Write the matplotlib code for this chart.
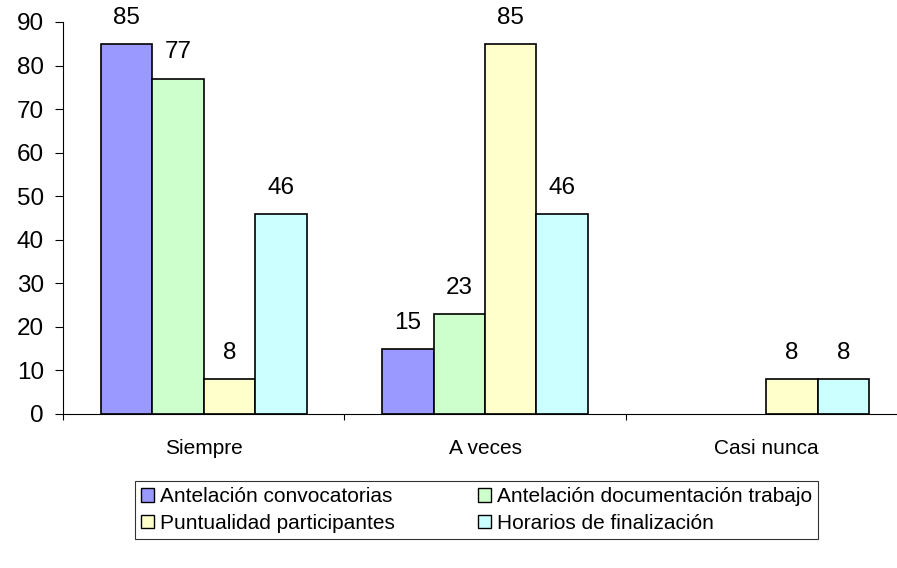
import matplotlib
matplotlib.use("Agg")
import matplotlib.pyplot as plt
import numpy as np
from matplotlib.patches import Patch

categories = ["Siempre", "A veces", "Casi nunca"]
series_names = ["Antelación convocatorias", "Antelación documentación trabajo",
                "Puntualidad participantes", "Horarios de finalización"]
antelacion_conv = [85, 15, 0]
antelacion_doc = [77, 23, 0]
puntualidad = [8, 85, 8]
horarios = [46, 46, 8]
series_values = [antelacion_conv, antelacion_doc, puntualidad, horarios]
colors = ["#9999FF", "#CCFFCC", "#FFFFCC", "#CCFFFF"]
yticks = list(range(0, 91, 10))

plt.rcParams['font.family'] = ['Liberation Sans', 'DejaVu Sans']

W, H = 897, 568
fig = plt.figure(figsize=(W / 100, H / 100), dpi=100)
left, right, top, bottom = 63, 907, 22, 414
ax = fig.add_axes([left / W, (H - bottom) / H, (right - left) / W, (bottom - top) / H])

bw = 0.183
x = np.arange(len(categories)) + 0.5
for i, (vals, c) in enumerate(zip(series_values, colors)):
    pos = x + (i - 1.5) * bw
    for p, v in zip(pos, vals):
        if v > 0:
            ax.bar(p, v, width=bw, color=c, edgecolor="black", linewidth=1.2, zorder=2)
            ax.annotate(f"{v}", (p, v), xytext=(0, 14.5), textcoords="offset points",
                        ha="center", va="baseline", fontsize=17.5)

ax.set_xlim(0, 3)
ax.set_ylim(0, 90)
ax.set_yticks(yticks)
ax.set_xticks([0, 1, 2, 3])
ax.set_xticklabels([])
ax.set_xticks(x, minor=True)
ax.set_xticklabels(categories, minor=True)
ax.tick_params(axis="x", which="major", direction="out", length=4.5, width=0.8)
ax.tick_params(axis="x", which="minor", length=0, pad=18, labelsize=15)
ax.tick_params(axis="y", direction="out", length=5.8, width=0.8, pad=8, labelsize=17.5)
for s in ["top", "right"]:
    ax.spines[s].set_visible(False)
for s in ["left", "bottom"]:
    ax.spines[s].set_linewidth(0.8)

order = [0, 2, 1, 3]
handles = [Patch(facecolor=colors[k], edgecolor="black", linewidth=1.0) for k in order]
labels = [series_names[k] for k in order]
leg = fig.legend(handles, labels, ncol=2, loc="center",
                 bbox_to_anchor=(476.5 / W, 1 - 510 / H), fontsize=15,
                 frameon=True, fancybox=False, edgecolor="black",
                 handlelength=0.6, handleheight=0.6, handletextpad=0.3,
                 columnspacing=4.0, borderpad=0.3, labelspacing=0.35,
                 borderaxespad=0)
leg.get_frame().set_linewidth(0.8)

fig.savefig("out.png", dpi=100)
